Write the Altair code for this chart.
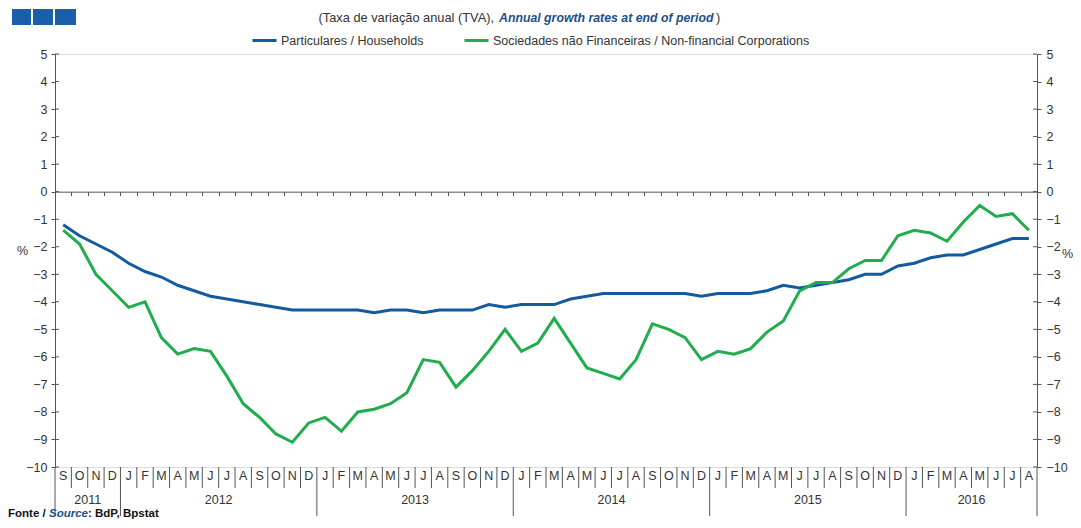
import altair as alt
import pandas as pd

# ---------------- data ----------------
periods = pd.period_range("2011-09", "2016-08", freq="M")
month_letters = ["J", "F", "M", "A", "M", "J", "J", "A", "S", "O", "N", "D"]

SERIES_HH = "Particulares / Households"
SERIES_NFC = "Sociedades não Financeiras / Non-financial Corporations"

households = [
    -1.2, -1.6, -1.9, -2.2,
    -2.6, -2.9, -3.1, -3.4, -3.6, -3.8, -3.9, -4.0, -4.1, -4.2, -4.3, -4.3,
    -4.3, -4.3, -4.3, -4.4, -4.3, -4.3, -4.4, -4.3, -4.3, -4.3, -4.1, -4.2,
    -4.1, -4.1, -4.1, -3.9, -3.8, -3.7, -3.7, -3.7, -3.7, -3.7, -3.7, -3.8,
    -3.7, -3.7, -3.7, -3.6, -3.4, -3.5, -3.4, -3.3, -3.2, -3.0, -3.0, -2.7,
    -2.6, -2.4, -2.3, -2.3, -2.1, -1.9, -1.7, -1.7,
]
corporations = [
    -1.4, -1.9, -3.0, -3.6,
    -4.2, -4.0, -5.3, -5.9, -5.7, -5.8, -6.7, -7.7, -8.2, -8.8, -9.1, -8.4,
    -8.2, -8.7, -8.0, -7.9, -7.7, -7.3, -6.1, -6.2, -7.1, -6.5, -5.8, -5.0,
    -5.8, -5.5, -4.6, -5.5, -6.4, -6.6, -6.8, -6.1, -4.8, -5.0, -5.3, -6.1,
    -5.8, -5.9, -5.7, -5.1, -4.7, -3.6, -3.3, -3.3, -2.8, -2.5, -2.5, -1.6,
    -1.4, -1.5, -1.8, -1.1, -0.5, -0.9, -0.8, -1.4,
]
y_ticks = list(range(-10, 6))

# ---------------- tables ----------------
n = len(periods)
df = pd.DataFrame({
    "pos": [i + 0.5 for i in range(n)] * 2,
    "value": households + corporations,
    "series": [SERIES_HH] * n + [SERIES_NFC] * n,
})
months_df = pd.DataFrame({
    "pos": [i + 0.5 for i in range(n)],
    "letter": [month_letters[p.month - 1] for p in periods],
})
bounds = list(range(n + 1))
is_year = [k == 0 or k == n or periods[k].month == 1 for k in bounds]
bounds_df = pd.DataFrame({"k": bounds, "year": is_year})
year_vals = sorted(set(p.year for p in periods))
years_df = pd.DataFrame({
    "year": [str(y) for y in year_vals],
    "pos": [
        (min(i for i, p in enumerate(periods) if p.year == y)
         + max(i for i, p in enumerate(periods) if p.year == y) + 1) / 2
        for y in year_vals
    ],
})
ticks_df = pd.DataFrame({"tick": y_ticks})

# ---------------- style ----------------
W, H = 982, 413
FONT = "Liberation Sans"
BLUE = "#135b9f"
GREEN = "#20ad4c"
AXIS_C = "#555555"
TEXT_C = "#333333"
FS = 12.5

xscale = alt.Scale(domain=[0, n], nice=False, zero=False)
yscale = alt.Scale(domain=[-10, 5], nice=False, zero=False)
xaxis = alt.Axis(orient="bottom", offset=-(H * 10 / 15), values=bounds,
                 labels=False, tickSize=4, tickColor=AXIS_C, domainColor=AXIS_C,
                 grid=False, title=None)


def X(field):
    return alt.X(field, scale=xscale, axis=xaxis, title=None)


left_axis = alt.Axis(orient="left", values=y_ticks, tickSize=4, labelPadding=4,
                     labelFont=FONT, labelFontSize=FS, labelColor=TEXT_C,
                     tickColor=AXIS_C, domainColor=AXIS_C, grid=False,
                     title="%", titleAngle=0, titleX=-33, titleY=196,
                     titleAlign="center", titleBaseline="middle",
                     titleFont=FONT, titleFontSize=FS, titleFontWeight="normal",
                     titleColor=TEXT_C)
right_axis = alt.Axis(orient="right", values=y_ticks, tickSize=4, labelPadding=5,
                      labelFont=FONT, labelFontSize=FS, labelColor=TEXT_C,
                      tickColor=AXIS_C, domainColor=AXIS_C, grid=False,
                      title="%", titleAngle=0, titleX=30, titleY=199,
                      titleAlign="center", titleBaseline="middle",
                      titleFont=FONT, titleFontSize=FS, titleFontWeight="normal",
                      titleColor=TEXT_C)

lines = alt.Chart(df).mark_line(strokeWidth=3).encode(
    x=X("pos:Q"),
    y=alt.Y("value:Q", scale=yscale, axis=left_axis),
    color=alt.Color(
        "series:N",
        scale=alt.Scale(domain=[SERIES_HH, SERIES_NFC], range=[BLUE, GREEN]),
        legend=alt.Legend(orient="none", legendX=196, legendY=-27,
                          direction="horizontal", columns=2, columnPadding=34,
                          symbolType="stroke", symbolSize=576, symbolStrokeWidth=3,
                          labelFont=FONT, labelFontSize=FS, labelColor=TEXT_C,
                          labelLimit=500, labelOffset=3, title=None),
    ),
)

right_ticks = alt.Chart(ticks_df).mark_rule(color=AXIS_C).encode(
    x=alt.value(W - 4), x2=alt.value(W),
    y=alt.Y("tick:Q", scale=yscale, axis=right_axis),
)
left_ticks = alt.Chart(ticks_df).mark_rule(color=AXIS_C).encode(
    x=alt.value(0), x2=alt.value(4),
    y=alt.Y("tick:Q", scale=yscale, axis=None),
)

month_seps = alt.Chart(bounds_df).transform_filter("!datum.year").mark_rule(
    color=AXIS_C).encode(x=X("k:Q"), y=alt.value(H), y2=alt.value(H + 21))
year_seps = alt.Chart(bounds_df).transform_filter("datum.year").mark_rule(
    color=AXIS_C).encode(x=X("k:Q"), y=alt.value(H), y2=alt.value(H + 49))

month_text = alt.Chart(months_df).mark_text(
    font=FONT, fontSize=FS, color=TEXT_C, baseline="middle").encode(
    x=X("pos:Q"), y=alt.value(H + 9), text="letter:N")
year_text = alt.Chart(years_df).mark_text(
    font=FONT, fontSize=FS, color=TEXT_C, baseline="alphabetic").encode(
    x=X("pos:Q"), y=alt.value(H + 37), text="year:N")

one = alt.Data(values=[{}])


def label(text, x, y, align="left", baseline="middle", **kw):
    return alt.Chart(one).mark_text(text=text, align=align, baseline=baseline,
                                    font=FONT, **kw).encode(
        x=alt.value(x), y=alt.value(y))


title1 = label("(Taxa de variação anual (TVA),", 439, -36, align="right",
               fontSize=12.8, color=TEXT_C)
title2 = label("Annual growth rates at end of period", 444, -36,
               fontSize=12.3, fontWeight="bold", fontStyle="italic", color="#1c4f8c")
title3 = label(")", 661, -36, fontSize=12.8, color=TEXT_C)

SRC_Y = 463
src1 = label("Fonte /", -47, SRC_Y, baseline="alphabetic", fontSize=11.5,
             fontWeight="bold", color="#111111")
src2 = label("Source", -6, SRC_Y, baseline="alphabetic", fontSize=11.5,
             fontWeight="bold", fontStyle="italic", color="#1c4f8c")
src3 = label(": BdP, Bpstat", 33, SRC_Y, baseline="alphabetic", fontSize=11.5,
             fontWeight="bold", color="#111111")

LOGO = "#1a60a8"


def square(x0, x1):
    return alt.Chart(one).mark_rect(color=LOGO).encode(
        x=alt.value(x0), x2=alt.value(x1), y=alt.value(-45), y2=alt.value(-29))


logo = square(-43, -24) + square(-22, -2) + square(0, 21)

chart = alt.layer(
    lines, right_ticks, left_ticks, month_seps, year_seps, month_text, year_text,
    title1, title2, title3, src1, src2, src3, logo,
).resolve_scale(y="independent").properties(
    width=W, height=H,
    autosize=alt.AutoSizeParams(type="none"),
    padding={"left": 47, "top": 46, "right": 36, "bottom": 53},
).configure_view(stroke=None).configure(background="white")

chart.save("out.html", embed_options={"renderer": "svg", "actions": False})
